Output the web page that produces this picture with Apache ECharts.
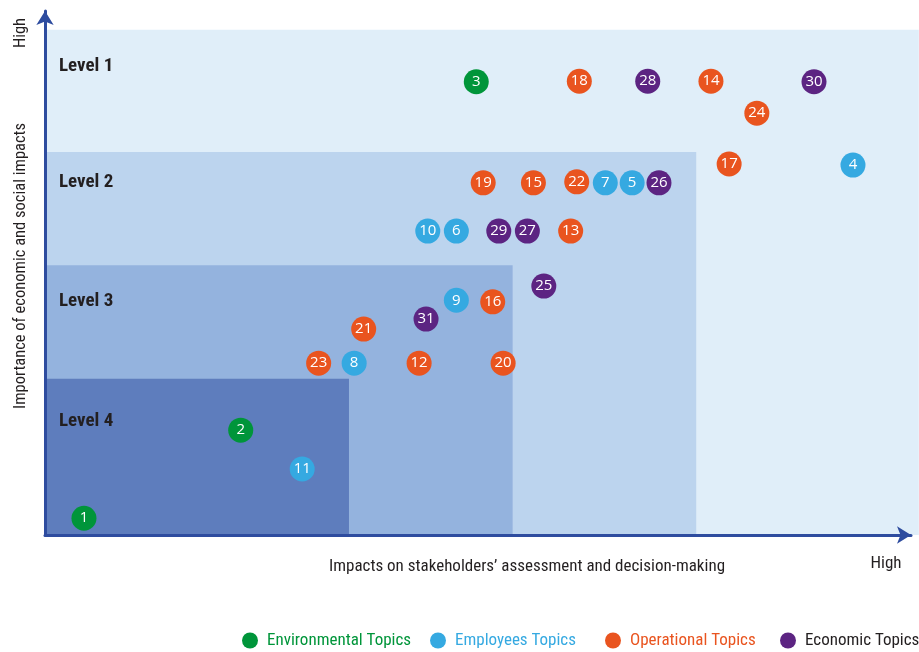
<!DOCTYPE html>
<html>
<head>
<meta charset="utf-8">
<title>Materiality Matrix</title>
<script src="https://cdn.jsdelivr.net/npm/echarts@6/dist/echarts.min.js"></script>
<style>
  html, body { margin: 0; padding: 0; background: #ffffff; }
  #chart { width: 919px; height: 652px; }
</style>
</head>
<body>
<div id="chart"></div>
<script>
// Topic scores (0-100 on both axes)
// x: impacts on stakeholders' assessment, y: importance of economic and social impacts
const envIds = [1, 2, 3];
const envX = [4.5, 22.6, 49.8];
const envY = [3.2, 20.0, 86.5];

const empIds = [4, 5, 6, 7, 8, 9, 10, 11];
const empX = [93.3, 67.8, 47.5, 64.7, 35.7, 47.5, 44.2, 29.7];
const empY = [70.6, 67.2, 58.0, 67.2, 32.8, 44.8, 58.0, 12.6];

const opIds = [12, 13, 14, 15, 16, 17, 18, 19, 20, 21, 22, 23, 24];
const opX = [43.2, 60.7, 76.9, 56.4, 51.7, 79.0, 61.7, 50.6, 52.9, 36.8, 61.4, 31.6, 82.2];
const opY = [32.8, 58.0, 86.6, 67.2, 44.5, 70.8, 86.6, 67.2, 32.8, 39.3, 67.4, 32.8, 80.5];

const ecoIds = [25, 26, 27, 28, 29, 30, 31];
const ecoX = [57.6, 70.9, 55.7, 69.6, 52.4, 88.8, 44.0];
const ecoY = [47.5, 67.2, 58.0, 86.6, 58.0, 86.5, 41.2];

// Level bands: upper-right corner of each band (bands start at the origin)
const levelNames = ['Level 1', 'Level 2', 'Level 3', 'Level 4'];
const levelX = [100.9, 75.2, 54.0, 35.1];
const levelY = [96.4, 73.1, 51.5, 29.8];

const groupNames = ['Environmental Topics', 'Employees Topics', 'Operational Topics', 'Economic Topics'];

const COLORS = {
  env: '#00953a',
  emp: '#35a9e1',
  op: '#e9541f',
  eco: '#5c2482'
};
const bandColors = ['#e0eef9', '#bcd4ee', '#94b3de', '#5e7dbd'];
const legendTextColors = [COLORS.env, COLORS.emp, COLORS.op, '#231f20'];
const legendLefts = [242, 430, 605, 780];
const AXIS = '#2e4c9f';
const TEXT = '#231f20';
const FONT = "'Liberation Sans Narrow', 'Roboto Condensed', Roboto, sans-serif";

function points(ids, xs, ys) {
  return ids.map((id, i) => [xs[i], ys[i], id]);
}

const bandData = levelNames.map((n, i) => [levelX[i], levelY[i], n]);

function scatterSeries(name, color, data) {
  return {
    name: name,
    type: 'scatter',
    z: 5,
    symbol: 'circle',
    symbolSize: 25,
    itemStyle: { color: color, opacity: 1 },
    label: {
      show: true,
      position: 'inside',
      formatter: p => String(p.value[2]),
      color: '#ffffff',
      fontSize: 15,
      fontFamily: "'Open Sans', sans-serif",
      fontWeight: 'normal'
    },
    emphasis: { disabled: true },
    data: data
  };
}

// one legend block per topic group so each entry sits at its own spot
const legends = groupNames.map((n, i) => ({
  data: [n],
  left: legendLefts[i], top: 632,
  padding: 0,
  icon: 'circle',
  itemWidth: 16, itemHeight: 16,
  selectedMode: false,
  textStyle: { color: legendTextColors[i], fontFamily: FONT, fontSize: 17, padding: [0, 0, 0, 4] }
}));

function levelLabel(i, y) {
  return {
    type: 'text', z: 10, x: 59, y: y,
    style: { text: levelNames[i], font: "bold 19px " + FONT, fill: TEXT, align: 'left', verticalAlign: 'middle' }
  };
}

const chart = echarts.init(document.getElementById('chart'), null, { renderer: 'canvas' });

const option = {
  backgroundColor: '#ffffff',
  animation: false,
  grid: { left: 45, right: 8, top: 11, bottom: 117, containLabel: false },
  xAxis: {
    type: 'value', min: 0, max: 100, z: 3,
    axisLine: {
      show: true, onZero: false,
      lineStyle: { color: AXIS, width: 3 },
      symbol: ['none', 'arrow'], symbolSize: [13, 14]
    },
    axisTick: { show: false }, axisLabel: { show: false }, splitLine: { show: false }
  },
  yAxis: {
    type: 'value', min: 0, max: 100, z: 3,
    axisLine: {
      show: true, onZero: false,
      lineStyle: { color: AXIS, width: 3 },
      symbol: ['none', 'arrow'], symbolSize: [13, 14]
    },
    axisTick: { show: false }, axisLabel: { show: false }, splitLine: { show: false }
  },
  legend: legends,
  series: [
    {
      type: 'custom',
      z: 1,
      silent: true,
      clip: false,
      renderItem: function (params, api) {
        const i = params.dataIndex;
        const origin = api.coord([0, 0]);
        const corner = api.coord([api.value(0), api.value(1)]);
        return {
          type: 'rect',
          shape: {
            x: origin[0],
            y: corner[1],
            width: corner[0] - origin[0],
            height: origin[1] - corner[1]
          },
          style: { fill: bandColors[i] }
        };
      },
      data: bandData
    },
    scatterSeries(groupNames[0], COLORS.env, points(envIds, envX, envY)),
    scatterSeries(groupNames[1], COLORS.emp, points(empIds, empX, empY)),
    scatterSeries(groupNames[2], COLORS.op, points(opIds, opX, opY)),
    scatterSeries(groupNames[3], COLORS.eco, points(ecoIds, ecoX, ecoY))
  ],
  graphic: [
    levelLabel(0, 66),
    levelLabel(1, 182),
    levelLabel(2, 301),
    levelLabel(3, 421),
    {
      type: 'text', z: 10, x: 21, y: 266, rotation: Math.PI / 2,
      style: {
        text: 'Importance of economic and social impacts',
        font: "16.5px " + FONT, fill: TEXT, align: 'center', verticalAlign: 'middle'
      }
    },
    {
      type: 'text', z: 10, x: 21, y: 33, rotation: Math.PI / 2,
      style: { text: 'High', font: "16.5px " + FONT, fill: TEXT, align: 'center', verticalAlign: 'middle' }
    },
    {
      type: 'text', z: 10, x: 527, y: 567,
      style: {
        text: 'Impacts on stakeholders\u2019 assessment and decision-making',
        font: "17px " + FONT, fill: TEXT, align: 'center', verticalAlign: 'middle'
      }
    },
    {
      type: 'text', z: 10, x: 886, y: 564,
      style: { text: 'High', font: "17px " + FONT, fill: TEXT, align: 'center', verticalAlign: 'middle' }
    }
  ]
};

chart.setOption(option);
</script>
</body>
</html>
